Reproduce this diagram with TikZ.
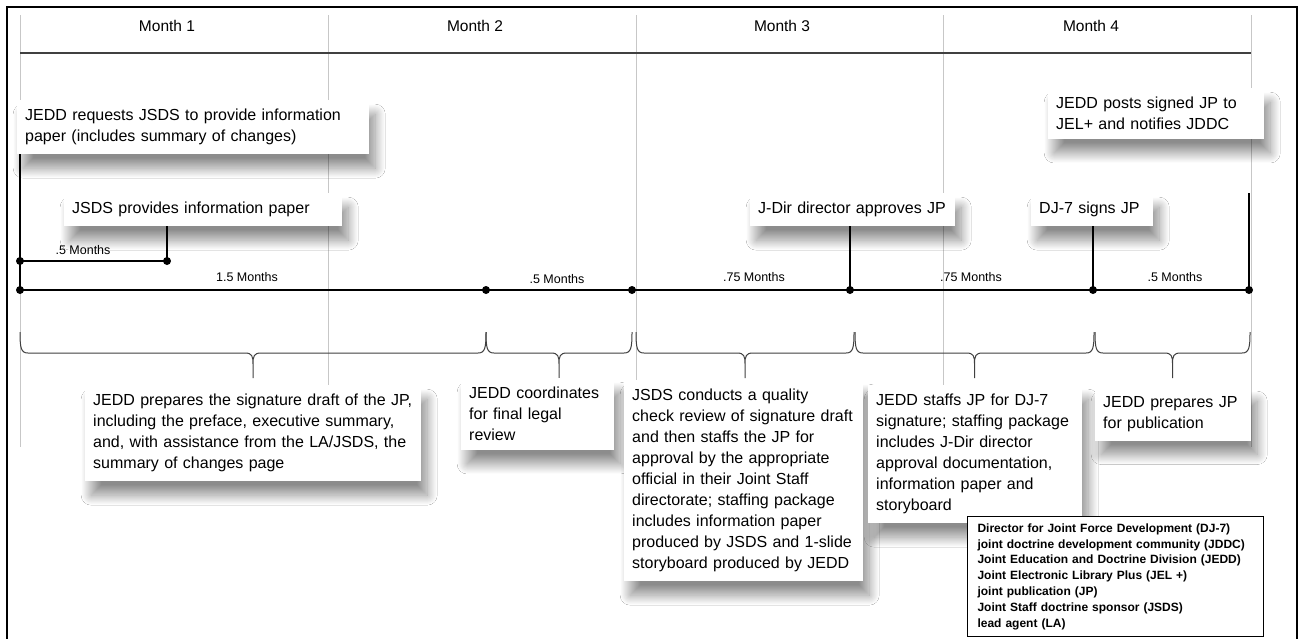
\documentclass[tikz,border=0pt]{standalone}
\usepackage{fontspec}
\setmainfont{Liberation Sans}
\usetikzlibrary{shadows.blur}
\tikzset{
  box/.style={fill=white, draw=none, align=left, anchor=north west,
    inner xsep=8pt, inner ysep=9pt, font=\fontsize{16}{21}\selectfont,
    blur shadow={shadow xshift=6pt, shadow yshift=-14pt, shadow blur radius=10pt,
      shadow blur steps=30, shadow opacity=45}},
  monthline/.style={draw=black!22, line width=0.9pt},
  headline/.style={draw=black!75, line width=1.3pt},
  tl/.style={draw=black, line width=1.4pt},
  dot/.style={circle, fill=black, inner sep=0pt, minimum size=8pt},
  dur/.style={font=\fontsize{12.5}{14}\selectfont, inner sep=1pt},
  mlabel/.style={font=\fontsize{15.5}{18}\selectfont},
  bracel/.style={draw=black!75, line width=1pt},
  legend/.style={draw=black, line width=1pt, fill=white, align=left, anchor=north west,
    inner xsep=10pt, inner ysep=7pt, font=\fontsize{12}{15.8}\selectfont\bfseries},
}
\newcommand{\mybrace}[2]{%
  \draw[bracel] (#1,332) .. controls (#1,348) and ({#1+1},353) .. ({#1+8},353)
    -- ({(#1+#2)/2-8},353) .. controls ({(#1+#2)/2-1},353) and ({(#1+#2)/2},356) .. ({(#1+#2)/2},364)
    -- ({(#1+#2)/2},378) -- ({(#1+#2)/2},364)
    .. controls ({(#1+#2)/2},356) and ({(#1+#2)/2+1},353) .. ({(#1+#2)/2+8},353)
    -- ({#2-8},353) .. controls ({#2-1},353) and (#2,348) .. (#2,332);}
\begin{document}
\begin{tikzpicture}[x=1pt,y=-1pt]
\useasboundingbox (0,0) rectangle (1303,638);
\clip (0,0) rectangle (1303,638);
\fill[white] (0,0) rectangle (1303,638);
% outer frame
\draw[line width=2pt] (7,7) rectangle (1297,700);
% month grid
\foreach \x in {20,328,636,943,1251} \draw[monthline] (\x,15) -- (\x,447);
\draw[headline] (20,53) -- (1251,53);
\node[mlabel] (m1) at (167,26) {Month 1};
\node[mlabel] (m2) at (475,26) {Month 2};
\node[mlabel] (m3) at (782,26) {Month 3};
\node[mlabel] (m4) at (1091,26) {Month 4};
% top boxes
\node[box, text width=336pt] (b1) at (17,100) {JEDD requests JSDS to provide information\\paper (includes summary of changes)};
\node[box, text width=262pt] (b2) at (64,193) {JSDS provides information paper};
\node[box, text width=189pt] (bj) at (750,193) {J-Dir director approves JP};
\node[box, text width=106pt] (bd) at (1031,193) {DJ-7 signs JP};
\node[box, text width=200pt] (bp) at (1048,88) {JEDD posts signed JP to\\JEL+ and notifies JDDC};
% timeline points
\coordinate (t0) at (20,290);
\coordinate (t1) at (486,290);
\coordinate (t2) at (632,290);
\coordinate (t3) at (850,290);
\coordinate (t4) at (1093,290);
\coordinate (t5) at (1249,290);
\coordinate (s0) at (20,261);
\coordinate (s1) at (167,261);
\coordinate (p5) at (1249,193);
\draw[tl] (t0) -- (t5);
\draw[tl] (s0) -- (s1);
\draw[tl] (b1.south -| t0) -- (t0);
\draw[tl] (b2.south -| s1) -- (s1);
\draw[tl] (bj.south -| t3) -- (t3);
\draw[tl] (bd.south -| t4) -- (t4);
\draw[tl] (p5) -- (t5);
\foreach \p in {t0,t1,t2,t3,t4,t5,s0,s1} \node[dot] at (\p) {};
% durations
\node[dur] (d0) at (83,250) {.5 Months};
\node[dur] (d1) at (247,277) {1.5 Months};
\node[dur] (d2) at (557,279) {.5 Months};
\node[dur] (d3) at (754,277) {.75 Months};
\node[dur] (d4) at (971,277) {.75 Months};
\node[dur] (d5) at (1175,277) {.5 Months};
% braces
\mybrace{20}{486}
\mybrace{486}{632}
\mybrace{636}{854}
\mybrace{855}{1094}
\mybrace{1095}{1250}
% bottom boxes
\node[box, text width=320pt] (bA) at (85,385) {JEDD prepares the signature draft of the JP,\\including the preface, executive summary,\\and, with assistance from the LA/JSDS, the\\summary of changes page};
\node[box, text width=137pt] (bB) at (461,378) {JEDD coordinates\\for final legal\\review};
\node[box, text width=223pt] (bC) at (624,380) {JSDS conducts a quality\\check review of signature draft\\and then staffs the JP for\\approval by the appropriate\\official in their Joint Staff\\directorate; staffing package\\includes information paper\\produced by JSDS and 1-slide\\storyboard produced by JEDD};
\node[box, text width=198pt] (bD) at (868,385) {JEDD staffs JP for DJ-7\\signature; staffing package\\includes J-Dir director\\approval documentation,\\information paper and\\storyboard};
\node[box, text width=140pt] (bE) at (1095,387) {JEDD prepares JP\\for publication};
% legend
\node[legend, text width=276pt] (lg) at (967,516) {Director for Joint Force Development (DJ-7)\\joint doctrine development community (JDDC)\\Joint Education and Doctrine Division (JEDD)\\Joint Electronic Library Plus (JEL +)\\joint publication (JP)\\Joint Staff doctrine sponsor (JSDS)\\lead agent (LA)};
\end{tikzpicture}
\end{document}
